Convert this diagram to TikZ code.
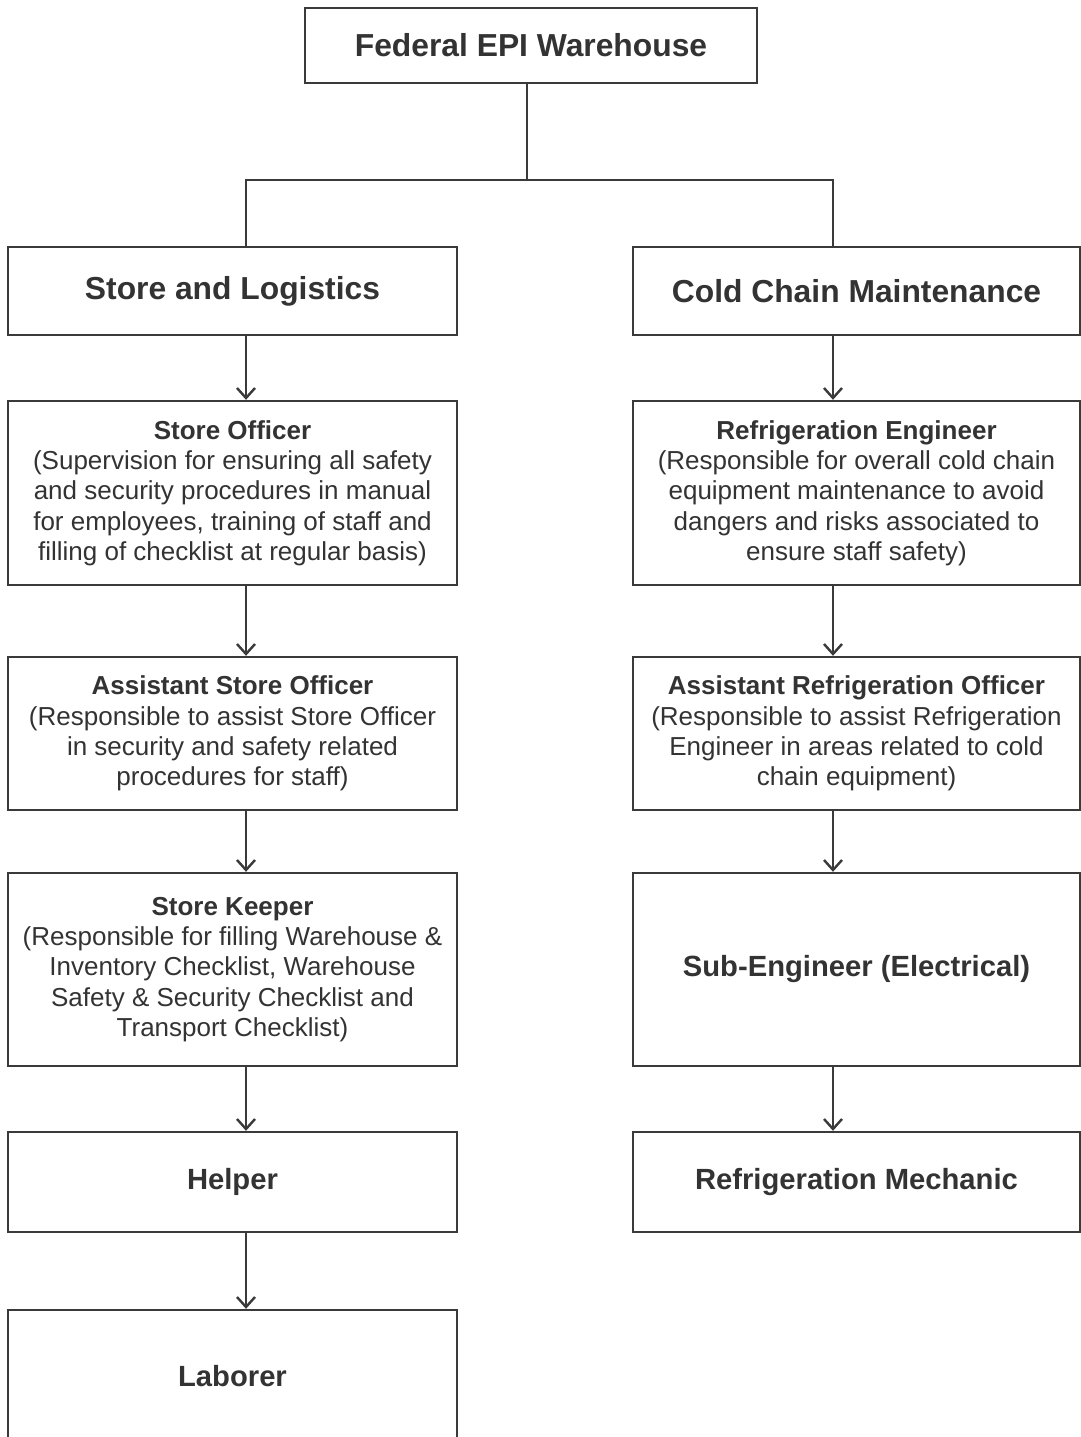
\documentclass[tikz,border=0pt]{standalone}
\usepackage{fontspec}
\setmainfont{Liberation Sans}
\usetikzlibrary{arrows.meta}
\definecolor{ink}{HTML}{333333}
\definecolor{edgec}{HTML}{3A3A3A}
\begin{document}
\begin{tikzpicture}[x=1pt,y=-1pt,
  box/.style={draw=edgec, line width=2.4pt, rectangle, inner sep=0pt, text=ink, align=center,
    minimum width=449pt, font=\fontsize{26}{30.3}\selectfont},
  rbox/.style={box, minimum width=447pt},
  big/.style={font=\bfseries\fontsize{31.8}{36}\selectfont},
  mid/.style={font=\bfseries\fontsize{29.2}{34}\selectfont},
  link/.style={draw=edgec, line width=2.4pt},
  arr/.style={link, -{Straight Barb[length=10pt,width=18pt]}}]
\useasboundingbox (0,0) rectangle (1081,1437);
\clip (0,0) rectangle (1081,1437);
\fill[white] (0,0) rectangle (1081,1437);

\node[box, big, minimum width=452pt, minimum height=75pt] (top) at (531,45.5) {Federal EPI Warehouse};

\node[box, big, minimum height=88pt] (sl) at (232.5,291) {Store and Logistics};
\node[rbox, big, minimum height=88pt] (cc) at (856.5,291) {Cold Chain Maintenance};

\node[box, minimum height=184pt] (so) at (232.5,493) {\textbf{Store Officer}\\(Supervision for ensuring all safety\\and security procedures in manual\\for employees, training of staff and\\filling of checklist at regular basis)};
\node[rbox, minimum height=184pt] (re) at (856.5,493) {\textbf{Refrigeration Engineer}\\(Responsible for overall cold chain\\equipment maintenance to avoid\\dangers and risks associated to\\ensure staff safety)};

\node[box, minimum height=153pt] (aso) at (232.5,733.5) {\textbf{Assistant Store Officer}\\(Responsible to assist Store Officer\\in security and safety related\\procedures for staff)};
\node[rbox, minimum height=153pt] (aro) at (856.5,733.5) {\textbf{Assistant Refrigeration Officer}\\(Responsible to assist Refrigeration\\Engineer in areas related to cold\\chain equipment)};

\node[box, minimum height=193pt] (sk) at (232.5,969.5) {\textbf{Store Keeper}\\(Responsible for filling Warehouse \&\\Inventory Checklist, Warehouse\\Safety \& Security Checklist and\\Transport Checklist)};
\node[rbox, mid, minimum height=193pt] (se) at (856.5,969.5) {Sub-Engineer (Electrical)};

\node[box, mid, minimum height=100pt] (hp) at (232.5,1182) {Helper};
\node[rbox, mid, minimum height=100pt] (rm) at (856.5,1182) {Refrigeration Mechanic};

\node[box, mid, minimum height=132pt] (lb) at (232.5,1376) {Laborer};

\coordinate (tx) at (527,0);
\coordinate (la) at (246,0);
\coordinate (ra) at (833,0);
\coordinate (hy) at (0,180);

\draw[link] (top.south -| tx) -- (tx |- hy);
\draw[link] (sl.north -| la) -- (la |- hy) -- (ra |- hy) -- (cc.north -| ra);

\draw[arr] (sl.south -| la) -- (so.north -| la);
\draw[arr] (so.south -| la) -- (aso.north -| la);
\draw[arr] (aso.south -| la) -- (sk.north -| la);
\draw[arr] (sk.south -| la) -- (hp.north -| la);
\draw[arr] (hp.south -| la) -- (lb.north -| la);

\draw[arr] (cc.south -| ra) -- (re.north -| ra);
\draw[arr] (re.south -| ra) -- (aro.north -| ra);
\draw[arr] (aro.south -| ra) -- (se.north -| ra);
\draw[arr] (se.south -| ra) -- (rm.north -| ra);
\end{tikzpicture}
\end{document}
